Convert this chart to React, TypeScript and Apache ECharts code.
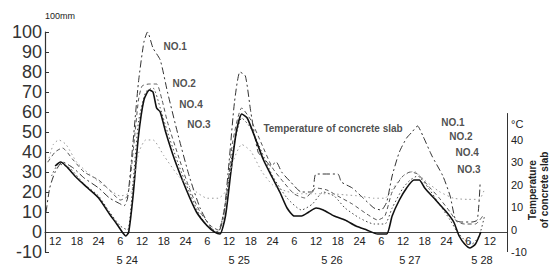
import React, { useEffect, useRef } from 'react';
import * as echarts from 'echarts';

// x = hours counted from 5/23 00:00
const hourTicks = [12, 18, 24, 30, 36, 42, 48, 54, 60, 66, 72, 78, 84, 90, 96, 102, 108, 114, 120, 126, 132];
const dateTicks = [31.9, 62.8, 88.4, 109.9, 129.8];
const dateLabels = ['5 24', '5 25', '5 26', '5 27', '5 28'];
const leftTicks = [-10, 0, 10, 20, 30, 40, 50, 60, 70, 80, 90, 100];
const rightTicks = [-10, 0, 10, 20, 30, 40];
const rightUnitAt = 47;

const no1: [number, number][] = [[9.5,10],[10.5,22],[12,30],[14,35],[17,32],[20,27],[24,22],[27,17],[30,14],[31,13],[32,17],[33.5,45],[35,75],[36.5,95],[37.5,100],[39,92],[41,86],[43,70],[46,48],[49,28],[52,12],[55,2],[57,0],[58.5,8],[60,35],[61.5,65],[63,80],[64.5,78],[66,60],[68,40],[70,36],[71.5,33],[73,35],[74.5,30],[77,25],[80,20],[83,20],[84,29],[90,29],[91,25],[94,22],[97,17],[100,12],[102,11],[103.5,15],[105,28],[107,40],[109,47],[110.5,50],[112,53],[113.5,48],[116,38],[119,28],[121,18],[122.5,6],[124,5],[127,5],[128.5,6],[129.3,25]];
const no2: [number, number][] = [[10,35],[12,40],[14,42],[17,36],[20,30],[24,26],[27,21],[30,16],[32,18],[33.5,40],[35,66],[36,73],[38,74],[40,74],[41.5,66],[43,55],[46,38],[49,22],[52,10],[55,3],[57,1],[59,14],[61,45],[63.5,62],[66,56],[69,44],[72,32],[75,25],[78,19],[81,17],[84,22],[87,21],[90,18],[94,14],[98,9],[101,6],[103,8],[105,20],[108,28],[110,30],[112,29],[115,23],[118,17],[121,10],[123,5],[125,4],[128,4],[130,8]];
const no4: [number, number][] = [[11,28],[13,34],[16,32],[20,24],[24,18],[27,10],[30,3],[32,1],[33.5,25],[35,55],[37,70],[39,72],[41,62],[43,50],[46,34],[49,20],[52,8],[55,1],[57,0],[59,15],[61,40],[63.5,57],[66,52],[69,40],[72,28],[76,17],[80,11],[83,14],[86,20],[89,18],[92,12],[96,7],[100,4],[103,4],[105,12],[108,22],[110,26],[112,28],[115,22],[118,14],[121,6],[123,0],[125,-4],[127,-6],[129,-2],[130.5,8]];
const no3: [number, number][] = [[12,33],[13.5,35],[15,33],[18,27],[21,22],[24,17],[27,9],[29,4],[30.5,0],[31.5,-2],[32.3,0],[33.5,18],[35,48],[36.5,66],[38,71],[39,70],[40,62],[41,60],[42.5,50],[45,36],[48,22],[51,10],[54,3],[56,0],[57.5,-1],[59,8],[60.5,30],[62,50],[63.5,59],[65,57],[67,48],[69.5,36],[72,27],[74,20],[76,12],[78,8],[80,8],[82,10],[84,12],[86,11],[89,8],[92,6],[95,3],[98,1],[101,-1],[103.5,-1],[105,8],[107,16],[109,22],[111,26],[112.5,26],[114,22],[117,16],[120,10],[122,5],[123.5,-2],[125,-6],[126.5,-8],[128,-6],[129.5,0]];
const slabTemp: [number, number][] = [[10,30],[11.5,38],[13,40],[15,38],[18,30],[22,24],[26,19],[30,15],[33,17],[35,34],[37,40],[39,40],[42,33],[46,24],[50,18],[54,14],[57,14],[59,17],[61,30],[63.5,38],[66,35],[69,26],[72,20],[76,17],[80,16],[84,16],[88,16],[92,15.5],[96,15],[100,14],[103,14],[105,18],[108,24],[111,26],[114,22],[118,17],[122,14],[126,13.5],[129,13.5],[130.5,18]];

const noteTexts = ['NO.1', 'NO.2', 'NO.4', 'NO.3', 'Temperature of concrete slab', 'NO.1', 'NO.2', 'NO.4', 'NO.3'];
const noteHours = [45.1, 47.6, 49.5, 51.7, 88.7, 121.8, 124, 125.7, 126.2];
const noteValues = [93, 74.5, 64, 54, 52, 55, 48, 40, 31.5];

const X_MIN = 9.2;
const X_MAX = 136.7;

export default function App() {
  const ref = useRef<HTMLDivElement>(null);
  useEffect(() => {
    if (!ref.current) return;
    const chart = echarts.init(ref.current, null, { renderer: 'svg' });
    const font = '"Liberation Sans Narrow", "Liberation Sans", Arial, sans-serif';
    const ink = '#222';
    const plainX = (gridIndex: number, values: number[], fmt: (v: number) => string, margin: number) => ({
      type: 'value', min: X_MIN, max: X_MAX, gridIndex, position: 'bottom',
      axisLine: { show: false, onZero: false },
      axisTick: { show: false },
      splitLine: { show: false },
      axisLabel: { customValues: values, margin, fontSize: 11, color: ink, fontFamily: font, formatter: fmt },
    });
    chart.setOption({
      animation: false,
      backgroundColor: '#fff',
      grid: [
        { left: 45, right: 46, top: 32, bottom: 14, containLabel: false, outerBoundsMode: 'none' },
        { left: 45, right: 46, top: 231, height: 1, containLabel: false, outerBoundsMode: 'none' },
        { left: 45, right: 46, bottom: 14, height: 1, containLabel: false, outerBoundsMode: 'none' },
      ],
      xAxis: [
        {
          type: 'value', min: X_MIN, max: X_MAX, gridIndex: 0,
          axisLine: { onZero: true, lineStyle: { color: '#444', width: 1 } },
          axisTick: { show: false },
          splitLine: { show: false },
          axisLabel: { show: false },
        },
        plainX(1, hourTicks, (v: number) => { const h = Math.round(v) % 24; return h === 0 ? '24' : String(h); }, 3),
        plainX(2, dateTicks, (v: number) => { const i = dateTicks.findIndex(d => Math.abs(d - v) < 0.01); return i >= 0 ? dateLabels[i] : ''; }, 2),
      ],
      yAxis: [
        {
          type: 'value', min: -10, max: 100, interval: 10, position: 'left', gridIndex: 0,
          name: '100mm', nameLocation: 'end', nameGap: 12,
          nameTextStyle: { fontSize: 9, color: ink, align: 'left', fontFamily: font },
          axisLine: { show: true, lineStyle: { color: '#333', width: 1.2 } },
          axisTick: { show: true, inside: true, length: 4, lineStyle: { color: '#333' }, customValues: leftTicks },
          splitLine: { show: false },
          axisLabel: { customValues: leftTicks, margin: 3, fontSize: 18, color: '#333', fontFamily: '"Liberation Sans", Arial, sans-serif' },
        },
        {
          type: 'value', min: -10, max: 88.2, position: 'right', gridIndex: 0,
          axisLine: { show: false },
          axisTick: { show: false },
          splitLine: { show: false },
          axisLabel: {
            customValues: [...rightTicks, rightUnitAt], margin: 4, fontSize: 11, color: ink, fontFamily: font,
            formatter: (v: number) => (v === rightUnitAt ? '°C' : String(v)),
          },
        },
        { type: 'value', gridIndex: 1, show: false, min: 0, max: 1 },
        { type: 'value', gridIndex: 2, show: false, min: 0, max: 1 },
      ],
      series: [
        { name: 'NO.1', type: 'line', data: no1, showSymbol: false, smooth: 0.2, lineStyle: { color: '#333', width: 1, type: [7, 3, 2, 3] } },
        { name: 'NO.2', type: 'line', data: no2, showSymbol: false, smooth: 0.2, lineStyle: { color: '#555', width: 1, type: [4, 3] } },
        { name: 'NO.4', type: 'line', data: no4, showSymbol: false, smooth: 0.2, lineStyle: { color: '#444', width: 1, type: [1.5, 2.5] } },
        { name: 'NO.3', type: 'line', data: no3, showSymbol: false, smooth: 0.2, lineStyle: { color: '#111', width: 1.6 } },
        {
          name: 'Temperature of concrete slab', type: 'line', yAxisIndex: 1, data: slabTemp, showSymbol: false, smooth: 0.2,
          lineStyle: { color: '#999', width: 1, type: [1.5, 3] },
          markLine: {
            silent: true, symbol: 'none', label: { show: false },
            lineStyle: { color: '#333', width: 1, type: 'solid' },
            data: [[{ coord: [X_MAX, -10] }, { coord: [X_MAX, 52] }]],
          },
        },
        {
          type: 'scatter', silent: true, symbolSize: 0,
          data: noteTexts.map((t, i) => ({ value: [noteHours[i], noteValues[i]], name: t })),
          label: {
            show: true, position: 'inside', formatter: (p: any) => p.name,
            fontSize: 10, fontWeight: 'bold', color: ink, fontFamily: font,
          },
        },
      ],
      graphic: [
        {
          type: 'text', x: 538, y: 190, rotation: Math.PI / 2,
          style: {
            text: 'Temperature\nof concrete slab', fontSize: 10, fontWeight: 'bold', fill: ink,
            fontFamily: font, align: 'center', verticalAlign: 'middle', lineHeight: 12,
          },
        },
      ],
    });
    return () => chart.dispose();
  }, []);
  return <div ref={ref} style={{ position: 'fixed', left: 0, top: 0, width: 553, height: 266 }} />;
}
